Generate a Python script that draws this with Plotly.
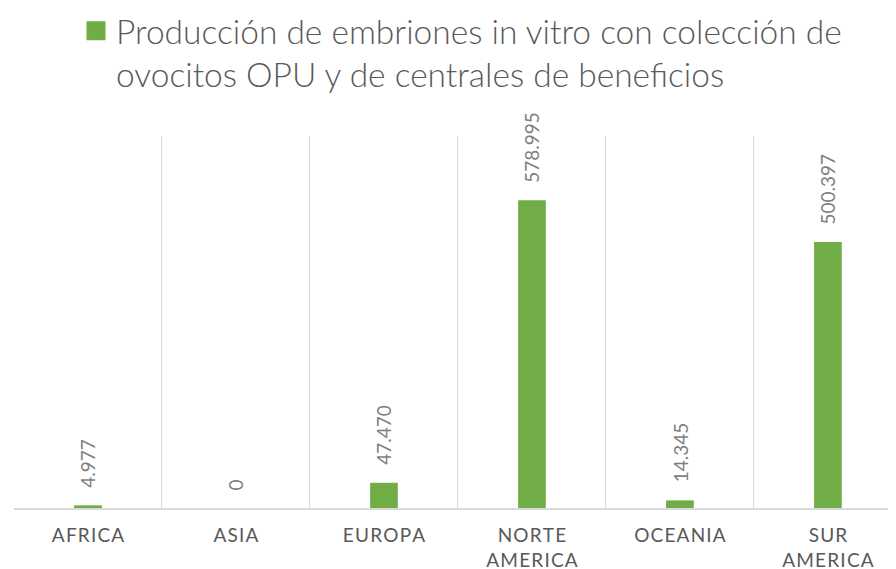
import plotly.graph_objects as go

categories = ["AFRICA", "ASIA", "EUROPA", "NORTE<br>AMERICA", "OCEANIA", "SUR<br>AMERICA"]
values = [4977, 0, 47470, 578995, 14345, 500397]
series_name = "Producción de embriones in vitro con colección de<br>ovocitos OPU y de centrales de beneficios"

GREEN = "#70AD47"
GRID = "#D9D9D9"
TXT = "#595959"
FONT = "Lato, 'Open Sans', sans-serif"

def spaced(label):
    return "<br>".join("\u200a".join(list(part)) for part in label.split("<br>"))

tick_text = [spaced(c) for c in categories]

fig = go.Figure()
fig.add_trace(go.Bar(
    x=categories, y=values, name=series_name,
    marker=dict(color=GREEN, line=dict(width=0)),
    width=0.187, showlegend=False,
))
# legend entry with a larger square swatch (no marks drawn)
fig.add_trace(go.Scatter(
    x=[None], y=[None], name=series_name, mode="markers",
    marker=dict(symbol="square", color=GREEN, size=16,
                line=dict(color=GREEN, width=3)),
    showlegend=True, hoverinfo="skip",
))

for c, v in zip(categories, values):
    fig.add_annotation(
        x=c, y=v, xref="x", yref="y",
        text=f"{v:,}".replace(",", "."),
        textangle=-90, showarrow=False,
        xanchor="center", yanchor="bottom", yshift=16,
        font=dict(family=FONT, size=19, color="#7F7F7F"),
    )

fig.update_layout(
    width=896, height=569,
    margin=dict(l=6, r=8, t=128, b=69, autoexpand=False),
    paper_bgcolor="white", plot_bgcolor="white",
    showlegend=True,
    legend=dict(
        x=0.0703, xanchor="left", y=1.359, yanchor="top",
        font=dict(family=FONT, size=33.5, color=TXT, weight=300),
        bgcolor="rgba(0,0,0,0)", valign="top", itemsizing="trace",
    ),
    xaxis=dict(
        type="category", range=[-0.5, 5.46], automargin=False,
        tickmode="array", tickvals=categories, ticktext=tick_text,
        tickson="boundaries", ticks="",
        showgrid=True, gridcolor=GRID, gridwidth=1,
        showline=True, linecolor=GRID, linewidth=2,
        tickfont=dict(family=FONT, size=19, color=TXT),
        ticklabelstandoff=9,
    ),
    yaxis=dict(
        range=[0, 700000], showgrid=False, showticklabels=False,
        zeroline=False, showline=False, ticks="", automargin=False,
    ),
)

fig.write_html("out.html")
